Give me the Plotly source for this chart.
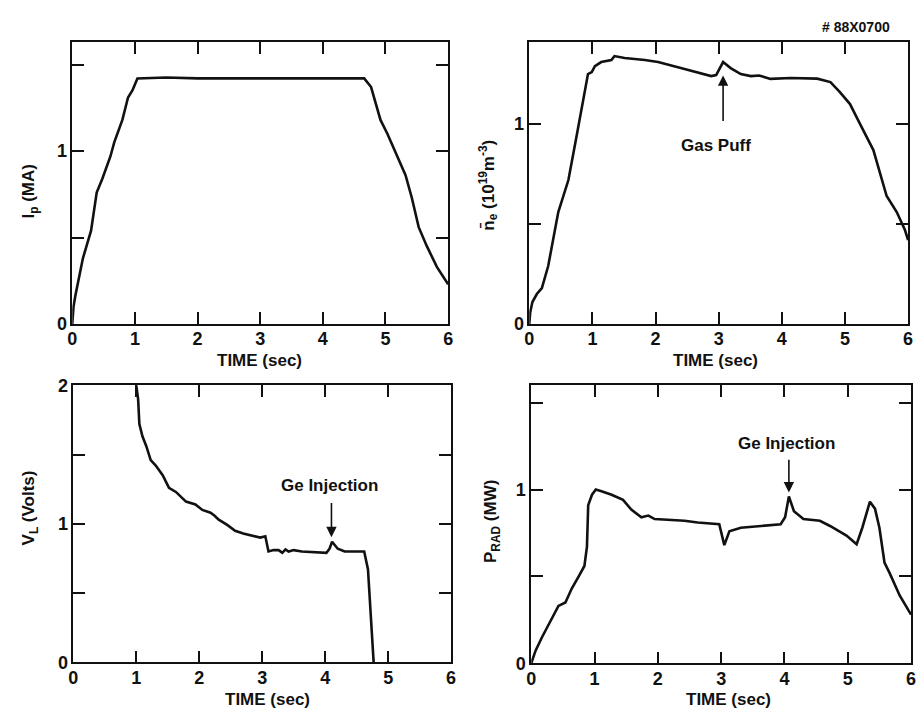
import plotly.graph_objects as go

# ---- discharge #88X0700 waveforms ----
# Plasma current (MA)
t_ip = [0.0, 0.02, 0.05, 0.08, 0.17, 0.30, 0.39, 0.48, 0.61, 0.67, 0.80, 0.89, 0.96, 1.04,
        1.50, 2.00, 2.50, 3.00, 3.50, 4.00, 4.40, 4.66, 4.77, 4.92, 5.03, 5.19, 5.32, 5.42,
        5.53, 5.66, 5.82, 6.00]
ip = [0.0, 0.10, 0.165, 0.22, 0.38, 0.54, 0.76, 0.84, 0.97, 1.05, 1.18, 1.31, 1.35, 1.42,
      1.425, 1.42, 1.42, 1.42, 1.42, 1.42, 1.42, 1.42, 1.37, 1.18, 1.10, 0.97, 0.86, 0.73,
      0.56, 0.45, 0.33, 0.23]

# Line-averaged density (1e19 m^-3)
t_ne = [0.0, 0.016, 0.05, 0.12, 0.20, 0.30, 0.46, 0.62, 0.75, 0.86, 0.93, 0.99, 1.04, 1.14,
        1.30, 1.35, 1.51, 1.83, 2.04, 2.46, 2.88, 2.96, 3.01, 3.07, 3.19, 3.35, 3.51, 3.64,
        3.82, 4.14, 4.56, 4.77, 4.92, 5.08, 5.24, 5.45, 5.66, 5.82, 5.95, 6.00]
ne = [0.0, 0.06, 0.11, 0.15, 0.18, 0.29, 0.56, 0.72, 0.94, 1.13, 1.25, 1.26, 1.29, 1.31,
      1.32, 1.34, 1.33, 1.32, 1.31, 1.275, 1.24, 1.245, 1.275, 1.31, 1.28, 1.25, 1.24, 1.243,
      1.226, 1.23, 1.227, 1.21, 1.16, 1.10, 1.00, 0.87, 0.64, 0.56, 0.47, 0.42]

# Loop voltage (V)
t_vl = [1.00, 1.03, 1.05, 1.10, 1.16, 1.23, 1.31, 1.42, 1.52, 1.63, 1.79, 1.94, 2.05, 2.12,
        2.18, 2.24, 2.31, 2.45, 2.57, 2.70, 2.84, 2.97, 3.05, 3.10, 3.18, 3.26, 3.32, 3.37,
        3.42, 3.50, 3.63, 3.80, 4.02, 4.07, 4.11, 4.20, 4.31, 4.50, 4.62, 4.68, 4.73, 4.77]
vl = [2.00, 1.90, 1.72, 1.63, 1.56, 1.46, 1.42, 1.35, 1.26, 1.23, 1.16, 1.14, 1.10, 1.09,
      1.08, 1.06, 1.03, 0.99, 0.95, 0.93, 0.915, 0.90, 0.91, 0.80, 0.81, 0.81, 0.79, 0.815,
      0.80, 0.81, 0.80, 0.795, 0.79, 0.82, 0.87, 0.82, 0.80, 0.80, 0.80, 0.67, 0.32, 0.0]

# Total radiated power (MW)
t_pr = [0.0, 0.07, 0.17, 0.28, 0.43, 0.54, 0.64, 0.75, 0.84, 0.88, 0.90, 0.96, 1.02, 1.11,
        1.27, 1.45, 1.58, 1.74, 1.85, 1.95, 2.42, 2.63, 2.97, 3.05, 3.13, 3.31, 3.57, 3.94,
        4.01, 4.07, 4.15, 4.30, 4.56, 4.72, 4.98, 5.14, 5.23, 5.35, 5.43, 5.50, 5.58, 5.66,
        5.82, 6.00]
prad = [0.0, 0.074, 0.15, 0.23, 0.33, 0.35, 0.43, 0.50, 0.56, 0.67, 0.91, 0.97, 1.00, 0.99,
        0.97, 0.94, 0.885, 0.84, 0.85, 0.83, 0.82, 0.81, 0.80, 0.68, 0.76, 0.78, 0.79, 0.80,
        0.84, 0.96, 0.875, 0.83, 0.82, 0.79, 0.735, 0.685, 0.78, 0.93, 0.89, 0.78, 0.58, 0.52,
        0.39, 0.28]

time_ticks = [0, 1, 2, 3, 4, 5, 6]
time_labels = ["0", "1", "2", "3", "4", "5", "6"]

FONT = "Liberation Sans"
INK = "#111111"

fig = go.Figure()
series = [(t_ip, ip, "x", "y"), (t_ne, ne, "x2", "y2"),
          (t_vl, vl, "x3", "y3"), (t_pr, prad, "x4", "y4")]
for tx, vy, xa, ya in series:
    fig.add_trace(go.Scatter(x=tx, y=vy, xaxis=xa, yaxis=ya, mode="lines",
                             line=dict(color=INK, width=2.6), showlegend=False,
                             hoverinfo="skip"))

tick_font = dict(family=FONT, size=18, color=INK)


def bold(labels):
    return ["<b>%s</b>" % s if s else "" for s in labels]


def xaxis(domain, anchor):
    return dict(domain=domain, anchor=anchor, range=[0, 6], tickvals=time_ticks,
                ticktext=bold(time_labels), ticks="inside", ticklen=12, tickwidth=1.5,
                tickcolor=INK, showline=True, linecolor=INK, linewidth=1.5,
                mirror="ticks", showgrid=False, zeroline=False, ticklabelstandoff=-2,
                tickfont=tick_font)


def yaxis(domain, anchor, top, vals, labels):
    return dict(domain=domain, anchor=anchor, range=[0, top], tickvals=vals,
                ticktext=bold(labels), ticks="inside", ticklen=12, tickwidth=1.5,
                tickcolor=INK, showline=True, linecolor=INK, linewidth=1.5,
                mirror="ticks", showgrid=False, zeroline=False, ticklabelstandoff=0,
                tickfont=tick_font)


W, H = 922, 718


def xd(a, b):
    return [a / W, b / W]


def yd(top, bottom):
    return [1 - bottom / H, 1 - top / H]


fig.update_layout(
    width=W, height=H, margin=dict(l=0, r=0, t=0, b=0),
    paper_bgcolor="white", plot_bgcolor="white",
    font=dict(family=FONT, color=INK),
    xaxis=xaxis(xd(68, 448), "y"),
    yaxis=yaxis(yd(33, 323), "x", 1.63, [0, 0.5, 1, 1.5], ["0", "", "1", ""]),
    xaxis2=xaxis(xd(530, 913), "y2"),
    yaxis2=yaxis(yd(33, 323), "x2", 1.41, [0, 0.5, 1], ["0", "", "1"]),
    xaxis3=xaxis(xd(69, 451), "y3"),
    yaxis3=yaxis(yd(386, 671), "x3", 2.0, [0, 0.5, 1, 1.5, 2], ["0", "", "1", "", "2"]),
    xaxis4=xaxis(xd(532, 916), "y4"),
    yaxis4=yaxis(yd(386, 672), "x4", 1.6, [0, 0.5, 1, 1.5], ["0", "", "1", ""]),
)

title_font = dict(family=FONT, size=17, color=INK)
notes = []

# axis titles
for txt, px, py in [("TIME (sec)", 257, 361), ("TIME (sec)", 718, 361),
                    ("TIME (sec)", 265, 709), ("TIME (sec)", 731, 709)]:
    notes.append(dict(text="<b>%s</b>" % txt, x=px / W, y=1 - py / H, xref="paper",
                      yref="paper", xanchor="center", yanchor="middle",
                      showarrow=False, font=title_font))

for txt, px, py in [("I<sub>p</sub> (MA)", 25, 187),
                    ("n\u0304<sub>e</sub> (10<sup>19</sup>m<sup>-3</sup>)", 489, 180),
                    ("V<sub>L</sub> (Volts)", 25, 512),
                    ("P<sub>RAD</sub> (MW)", 493, 526)]:
    notes.append(dict(text="<b>%s</b>" % txt, x=px / W, y=1 - py / H, xref="paper",
                      yref="paper", xanchor="center", yanchor="middle",
                      showarrow=False, textangle=-90, font=title_font))

notes.append(dict(text="<b># 88X0700</b>", x=860 / W, y=1 - 17 / H, xref="paper",
                  yref="paper", xanchor="center", yanchor="middle", showarrow=False,
                  font=dict(family=FONT, size=14, color=INK)))

# event markers
label_font = dict(family=FONT, size=17, color=INK)
events = [("Gas Puff", "x2", "y2", 2.96, 0.895, 3.07, 1.243, 1.008),
          ("Ge Injection", "x3", "y3", 4.07, 1.277, 4.10, 0.903, 1.16),
          ("Ge Injection", "x4", "y4", 4.03, 1.266, 4.07, 0.983, 1.18)]
for txt, xa, ya, tx, ty, ax_t, tip_v, tail_v in events:
    notes.append(dict(text="<b>%s</b>" % txt, x=tx, y=ty, xref=xa, yref=ya,
                      xanchor="center", yanchor="middle", showarrow=False,
                      font=label_font))
    notes.append(dict(text="", x=ax_t, y=tip_v, xref=xa, yref=ya, ax=ax_t, ay=tail_v,
                      axref=xa, ayref=ya, showarrow=True, arrowhead=2, arrowsize=1.3,
                      arrowwidth=1.6, arrowcolor=INK))

fig.update_layout(annotations=notes)
fig.write_html("out.html")
